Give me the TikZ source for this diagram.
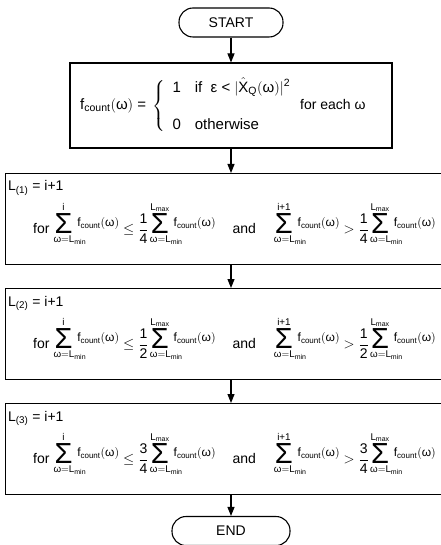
\documentclass[tikz,border=0pt]{standalone}
\usepackage{amsmath, mathtools}
\usepackage{fontspec}
\setmainfont{Liberation Sans}
\usetikzlibrary{arrows.meta, positioning}
\newcommand{\om}{\text{ω}}
\newcommand{\fcnt}{\text{f}_{\text{count}}(\om)}
\newcommand{\fsum}{\,\raisebox{0.9ex}{\fontsize{12}{14}\selectfont$\fcnt$}}
\newcommand{\sig}{\mathop{\text{\fontsize{29}{29}\selectfont Σ}}\limits}
\newcommand{\lsum}[1]{\sig_{\mathrlap{\hspace{-10pt}\om=\text{L}_{\text{min}}}}^{\mathclap{#1}}}
\newcommand{\quartile}[2]{for\hspace{5pt}$\displaystyle\lsum{\text{i}}\fsum \le \frac{\text{#1}}{\text{#2}}\lsum{\text{L}_{\text{max}}}\fsum$\hspace{17pt}and\hspace{19pt}$\displaystyle\lsum{\text{i+1}}\fsum > \frac{\text{#1}}{\text{#2}}\lsum{\text{L}_{\text{max}}}\fsum$}
\tikzset{
    terminal/.style = {draw, line width = 1.1pt, rounded corners = 14pt, minimum width = 104pt, minimum height = 29pt, font = \fontsize{14}{16}\selectfont},
    process/.style  = {draw, line width = 1.1pt, inner sep = 0pt},
    flow/.style     = {line width = 1.1pt, -{Triangle[length = 9pt, width = 7pt]}},
    eqn/.style      = {inner sep = 0pt, anchor = west, font = \fontsize{14}{16}\selectfont}
}

\begin{document}
\begin{tikzpicture}[x=1pt, y=-1pt]
		\useasboundingbox (0,0) rectangle (440,545);

		\node[terminal] (start) at (231,22.5) {START};

		\node[process, minimum width=322pt, minimum height=85pt] (count) at (231,105.5) {};
		\node[eqn, font=\fontsize{15}{17}\selectfont] (fdef) at (80,106) {$\fcnt\text{ = }\left\{\begin{array}{@{\hspace{7pt}}l@{\hspace{14pt}}l@{}} \text{1} & \text{if\ \ ε\ <\ }|\hat{\text{X}}_{\text{Q}}(\om)|^{\text{2}} \\[20pt] \text{0} & \text{otherwise} \end{array}\right.$};
		\node[eqn, anchor=base west, font=\fontsize{14}{16}\selectfont] (each) at (300,0 |- fdef.base) {for each ω};

		\node[process, anchor=north west, minimum width=450pt, minimum height=91pt] (quartA) at (5,173) {};
		\node[eqn, anchor=base west] (lA) at (8,191) {L$_{\text{(1)}}$ = i+1};
		\node[eqn] (cA) at (33,224) {\quartile{1}{4}};

		\node[process, anchor=north west, minimum width=450pt, minimum height=91pt] (quartB) at (5,288) {};
		\node[eqn, anchor=base west] (lB) at (8,306) {L$_{\text{(2)}}$ = i+1};
		\node[eqn] (cB) at (33,339) {\quartile{1}{2}};

		\node[process, anchor=north west, minimum width=450pt, minimum height=91pt] (quartC) at (5,403) {};
		\node[eqn, anchor=base west] (lC) at (8,421) {L$_{\text{(3)}}$ = i+1};
		\node[eqn] (cC) at (33,454) {\quartile{3}{4}};

		\node[terminal, minimum width=118pt] (stop) at (231,531) {END};

		\draw[flow] (start.south) -- (count.north);
		\draw[flow] (count.south) -- (count.south |- quartA.north);
		\draw[flow] (count.south |- quartA.south) -- (count.south |- quartB.north);
		\draw[flow] (count.south |- quartB.south) -- (count.south |- quartC.north);
		\draw[flow] (count.south |- quartC.south) -- (stop.north);
	\end{tikzpicture}
\end{document}
